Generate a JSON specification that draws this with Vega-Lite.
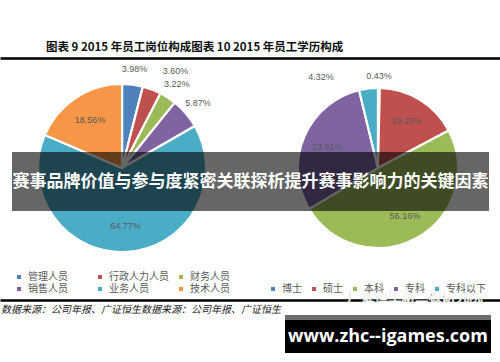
{
  "$schema": "https://vega.github.io/schema/vega-lite/v6.json",
  "width": 500,
  "height": 220,
  "autosize": {"type": "none"},
  "padding": {"top": 58, "left": 0, "right": 0, "bottom": 84},
  "background": "white",
  "config": {"view": {"stroke": null}, "font": "Noto Sans CJK SC"},
  "title": {
    "text": "图表 9 2015 年员工岗位构成图表 10 2015 年员工学历构成",
    "anchor": "start",
    "frame": "group",
    "dx": 46,
    "offset": 5,
    "fontSize": 11.5,
    "fontWeight": "bold",
    "font": "Noto Sans CJK SC",
    "color": "#111111"
  },
  "datasets": {
    "post": [
      {"chart": "岗位构成", "category": "管理人员", "value": 3.98, "label": "3.98%", "rank": 1},
      {"chart": "岗位构成", "category": "行政人力人员", "value": 3.60, "label": "3.60%", "rank": 2},
      {"chart": "岗位构成", "category": "财务人员", "value": 3.22, "label": "3.22%", "rank": 3},
      {"chart": "岗位构成", "category": "销售人员", "value": 5.87, "label": "5.87%", "rank": 4},
      {"chart": "岗位构成", "category": "业务人员", "value": 64.77, "label": "64.77%", "rank": 5},
      {"chart": "岗位构成", "category": "技术人员", "value": 18.56, "label": "18.56%", "rank": 6}
    ],
    "edu": [
      {"chart": "学历构成", "category": "博士", "value": 0.43, "label": "0.43%", "rank": 1},
      {"chart": "学历构成", "category": "硕士", "value": 19.22, "label": "19.22%", "rank": 2},
      {"chart": "学历构成", "category": "本科", "value": 56.16, "label": "56.16%", "rank": 3},
      {"chart": "学历构成", "category": "专科", "value": 33.91, "label": "33.91%", "rank": 4},
      {"chart": "学历构成", "category": "专科以下", "value": 4.32, "label": "4.32%", "rank": 5}
    ],
    "notes": [
      {"kind": "banner", "text": "赛事品牌价值与参与度紧密关联探析提升赛事影响力的关键因素"},
      {"kind": "source", "text": "数据来源：公司年报、广证恒生数据来源：公司年报、广证恒生"},
      {"kind": "mark", "text": "广证恒生新三板研究院"},
      {"kind": "url", "text": "www.zhc--igames.com"}
    ]
  },
  "layer": [
    {
      "data": {"name": "post"},
      "encoding": {
        "x": {
          "field": "chart", "type": "nominal",
          "scale": {"domain": ["岗位构成", "学历构成"], "padding": 0.477},
          "axis": {"orient": "top", "labels": false, "ticks": false, "title": null, "grid": false, "domainColor": "#000000", "domainWidth": 2.5}
        },
        "theta": {"field": "value", "type": "quantitative", "stack": true},
        "order": {"field": "rank", "type": "quantitative"}
      },
      "layer": [
        {
          "mark": {"type": "arc", "outerRadius": 84, "stroke": "white", "strokeWidth": 2.2},
          "encoding": {
            "color": {
              "field": "category", "type": "nominal",
              "scale": {
                "domain": ["管理人员", "行政人力人员", "财务人员", "销售人员", "业务人员", "技术人员"],
                "range": ["#4F81BD", "#C0504D", "#9BBB59", "#8064A2", "#4BACC6", "#F79646"]
              },
              "legend": {
                "orient": "none", "legendX": 14, "legendY": 214, "title": null,
                "columns": 3, "direction": "horizontal", "gridAlign": "all",
                "columnPadding": 7, "rowPadding": 2,
                "symbolType": "square", "symbolSize": 16, "symbolStrokeWidth": 0,
                "labelFontSize": 10, "labelColor": "#595959", "labelFont": "Noto Sans CJK SC", "labelOffset": 4
              }
            }
          }
        },
        {
          "mark": {"type": "text", "radius": 100, "fontSize": 9, "font": "Liberation Sans", "fill": "#595959"},
          "encoding": {
            "detail": {"field": "category", "type": "nominal"},
            "text": {"condition": {"test": "datum.value < 10 && datum.category !== '行政人力人员'", "field": "label"}, "value": ""}
          }
        },
        {
          "mark": {"type": "text", "radius": 100, "dx": 18, "dy": -4, "fontSize": 9, "font": "Liberation Sans", "fill": "#595959"},
          "encoding": {
            "detail": {"field": "category", "type": "nominal"},
            "text": {"condition": {"test": "datum.category === '行政人力人员'", "field": "label"}, "value": ""}
          }
        },
        {
          "mark": {"type": "text", "radius": 58, "fontSize": 9, "font": "Liberation Sans", "fill": "#595959"},
          "encoding": {
            "detail": {"field": "category", "type": "nominal"},
            "text": {"condition": {"test": "datum.value >= 10", "field": "label"}, "value": ""}
          }
        }
      ]
    },
    {
      "data": {"name": "edu"},
      "encoding": {
        "x": {
          "field": "chart", "type": "nominal",
          "scale": {"domain": ["岗位构成", "学历构成"], "padding": 0.477},
          "axis": {"orient": "bottom", "offset": 22, "labels": false, "ticks": false, "title": null, "grid": false, "domainColor": "#000000", "domainWidth": 2.5}
        },
        "theta": {"field": "value", "type": "quantitative", "stack": true},
        "order": {"field": "rank", "type": "quantitative"}
      },
      "layer": [
        {
          "mark": {"type": "arc", "outerRadius": 80, "stroke": "white", "strokeWidth": 2.2},
          "encoding": {
            "color": {
              "field": "category", "type": "nominal",
              "scale": {
                "domain": ["博士", "硕士", "本科", "专科", "专科以下"],
                "range": ["#4F81BD", "#C0504D", "#9BBB59", "#8064A2", "#4BACC6"]
              },
              "legend": {
                "orient": "none", "legendX": 268, "legendY": 226, "title": null,
                "columns": 5, "direction": "horizontal", "gridAlign": "each",
                "columnPadding": 7,
                "symbolType": "square", "symbolSize": 16, "symbolStrokeWidth": 0,
                "labelFontSize": 10, "labelColor": "#595959", "labelFont": "Noto Sans CJK SC", "labelOffset": 4
              }
            }
          }
        },
        {
          "mark": {"type": "text", "radius": 55, "fontSize": 9, "font": "Liberation Sans", "fill": "#595959"},
          "encoding": {
            "detail": {"field": "category", "type": "nominal"},
            "text": {"condition": {"test": "datum.value >= 10", "field": "label"}, "value": ""}
          }
        },
        {
          "mark": {"type": "text", "radius": 92, "fontSize": 9, "font": "Liberation Sans", "fill": "#595959"},
          "encoding": {
            "detail": {"field": "category", "type": "nominal"},
            "text": {"condition": {"test": "datum.category === '博士'", "field": "label"}, "value": ""}
          }
        },
        {
          "mark": {"type": "text", "radius": 92, "dx": -46, "fontSize": 9, "font": "Liberation Sans", "fill": "#595959"},
          "encoding": {
            "detail": {"field": "category", "type": "nominal"},
            "text": {"condition": {"test": "datum.category === '专科以下'", "field": "label"}, "value": ""}
          }
        }
      ]
    },
    {
      "data": {"name": "notes"},
      "transform": [{"filter": "datum.kind === 'banner'"}],
      "layer": [
        {"mark": {"type": "rect", "x": 12, "x2": 489, "y": 94, "y2": 153, "fill": "#000000", "opacity": 0.6}, "encoding": {}},
        {"mark": {"type": "text", "x": 250.5, "y": 123.5, "align": "center", "baseline": "middle", "fontSize": 17, "fontWeight": "bold", "font": "Noto Sans CJK SC", "fill": "#ffffff"}, "encoding": {"text": {"field": "text"}}}
      ]
    },
    {
      "data": {"name": "notes"},
      "transform": [{"filter": "datum.kind === 'source'"}],
      "mark": {"type": "text", "x": 1, "y": 252, "align": "left", "baseline": "middle", "fontSize": 10, "fontStyle": "italic", "font": "Noto Sans CJK SC", "fill": "#222222"},
      "encoding": {"text": {"field": "text"}}
    },
    {
      "data": {"name": "notes"},
      "transform": [{"filter": "datum.kind === 'mark'"}],
      "mark": {"type": "text", "x": 415, "y": 239, "align": "center", "baseline": "middle", "fontSize": 13.5, "font": "Noto Sans CJK SC", "fill": "#5a5a5a", "stroke": "white", "strokeWidth": 0.8, "opacity": 0.95},
      "encoding": {"text": {"field": "text"}}
    },
    {
      "data": {"name": "notes"},
      "transform": [{"filter": "datum.kind === 'url'"}],
      "layer": [
        {"mark": {"type": "rect", "x": 285, "x2": 491, "y": 257, "y2": 295, "fill": "#6e6e6e"}, "encoding": {}},
        {"mark": {"type": "rect", "x": 285, "x2": 491, "y": 262, "y2": 295, "fill": "#000000"}, "encoding": {}},
        {"mark": {"type": "text", "x": 388, "y": 279, "align": "center", "baseline": "middle", "fontSize": 18, "fontWeight": "bold", "font": "Open Sans", "fill": "#ffffff"}, "encoding": {"text": {"field": "text"}}}
      ]
    }
  ],
  "resolve": {"scale": {"theta": "independent", "color": "independent"}, "axis": {"x": "independent"}}
}
